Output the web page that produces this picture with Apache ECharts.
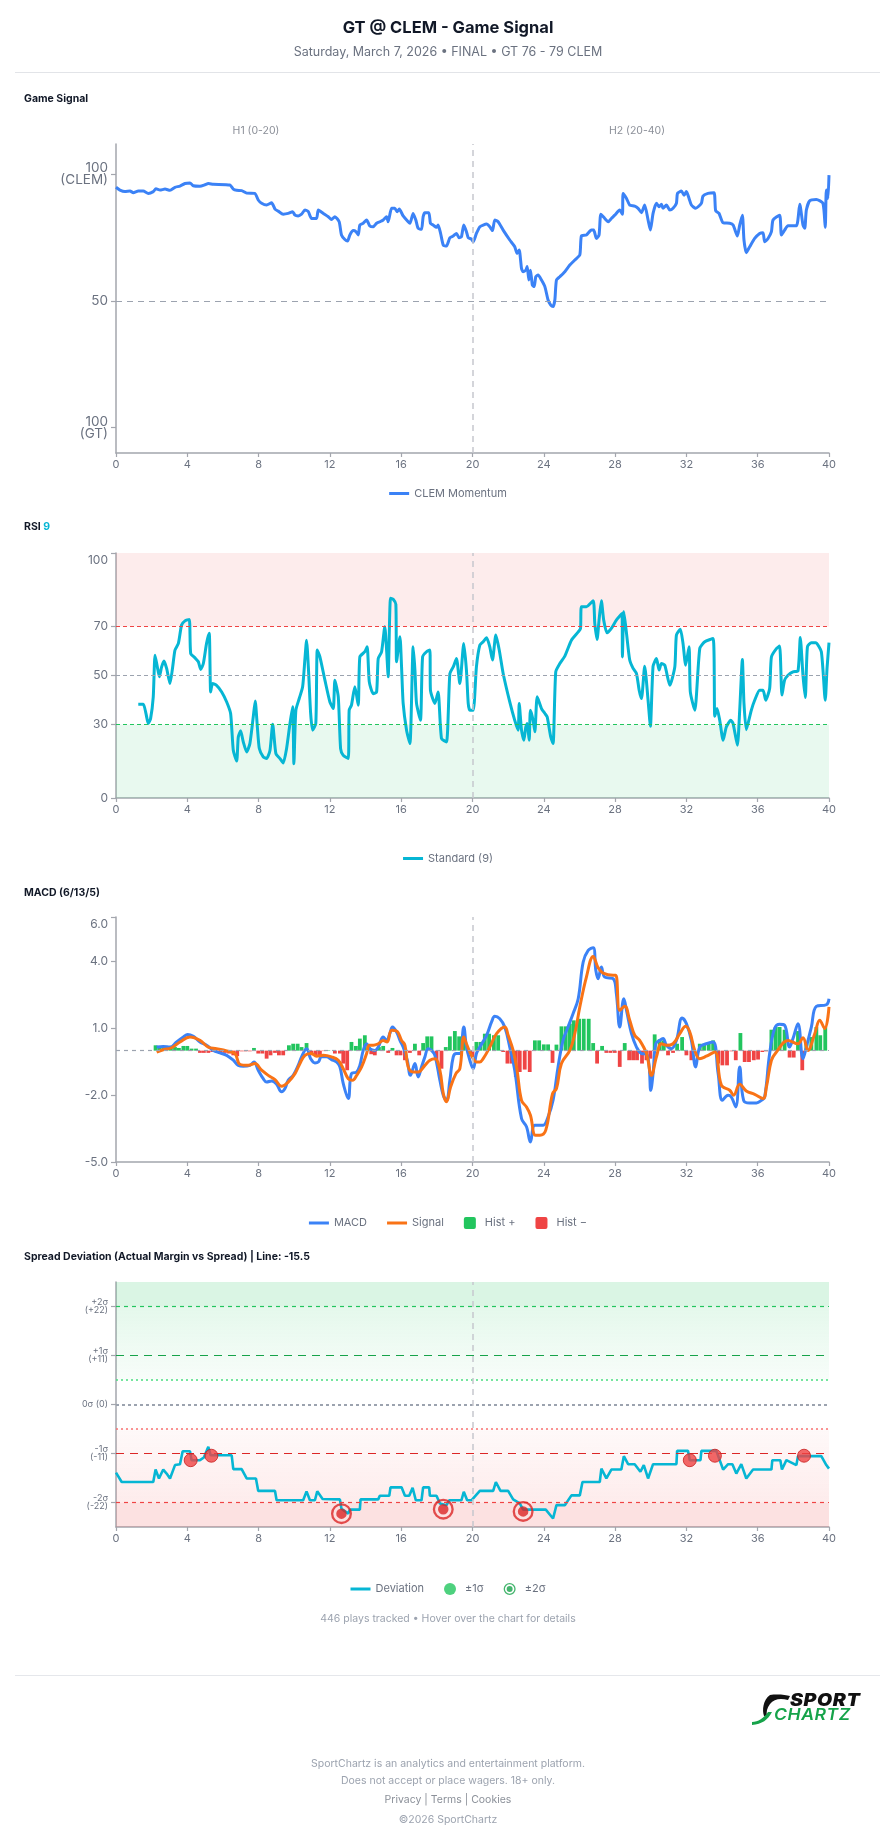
<!DOCTYPE html>
<html><head><meta charset="utf-8">
<script src="https://cdn.jsdelivr.net/npm/echarts@6/dist/echarts.min.js"></script>
<style>
body{margin:0;background:#fff;font-family:Inter,"Noto Sans",sans-serif;}
#page{position:relative;width:896px;height:1845px;overflow:hidden;background:#fff;}
#chart{position:absolute;left:0;top:0;width:896px;height:1845px;}
.t{position:absolute;white-space:nowrap;}
.sec{left:24px;font-size:10.5px;font-weight:700;color:#111827;line-height:14px;}
.foot{left:0;width:896px;text-align:center;font-size:10.5px;color:#9ca3af;line-height:14px;}
</style></head><body><div id="page"><div id="chart"></div>
<div class="t" style="left:0;width:896px;top:17px;text-align:center;font-size:16.5px;font-weight:700;color:#111827;line-height:20px;">GT @ CLEM - Game Signal</div>
<div class="t" style="left:0;width:896px;top:44px;text-align:center;font-size:12.5px;color:#6b7280;line-height:16px;">Saturday, March 7, 2026 • FINAL • GT 76 - 79 CLEM</div>
<div class="t" style="left:15px;width:865px;top:72px;height:1px;background:#e2e4e8;"></div>
<div class="t sec" style="top:92px;">Game Signal</div>
<div class="t sec" style="top:520px;">RSI <span style="color:#06b6d4">9</span></div>
<div class="t sec" style="top:886px;">MACD (6/13/5)</div>
<div class="t sec" style="top:1250px;">Spread Deviation (Actual Margin vs Spread) | Line: -15.5</div>
<div class="t foot" style="top:1612px;">446 plays tracked • Hover over the chart for details</div>
<div class="t" style="left:15px;width:865px;top:1675px;height:1px;background:#e5e7eb;"></div>
<svg class="t" style="left:748px;top:1692px;" width="120" height="34" viewBox="0 0 120 34">
  <path d="M22,3 C30,2 38,3 42,4 L40,8 C32,6 26,7 22,12 C19,16 18,20 19,24 L16,24 C14,18 15,8 22,3 Z" fill="#111"/>
  <path d="M4,30 C10,30 16,26 20,20 L24,20 C20,28 14,32 4,33 Z" fill="#16a34a"/>
</svg>
<div class="t" style="left:790px;top:1691px;font-size:17px;font-weight:900;font-style:italic;color:#111;letter-spacing:0.5px;line-height:18px;transform:scaleX(1.15);transform-origin:left;">SPORT</div>
<div class="t" style="left:774px;top:1706px;font-size:16px;font-weight:600;font-style:italic;color:#16a34a;letter-spacing:0.5px;line-height:17px;transform:scaleX(1.1);transform-origin:left;">CHARTZ</div>
<div class="t foot" style="top:1757px;">SportChartz is an analytics and entertainment platform.</div>
<div class="t foot" style="top:1774px;">Does not accept or place wagers. 18+ only.</div>
<div class="t foot" style="top:1793px;color:#8b9099;">Privacy | Terms | Cookies</div>
<div class="t foot" style="top:1813px;">©2026 SportChartz</div>
</div>
<script>
// ---------- DATA (minute, value) ----------
const momentum = [[0,94.9],[0.22,93.8],[0.5,93.2],[0.79,93.4],[0.97,92.8],[1.25,93.4],[1.53,93.4],[1.81,92.5],[2.09,93.2],[2.24,94.3],[2.47,93.8],[2.75,94.2],[3.03,93.7],[3.31,94.9],[3.59,95.4],[3.87,96.4],[4.15,96.6],[4.34,95.5],[4.71,95.3],[4.99,95.9],[5.18,96.4],[5.46,96.1],[6.39,95.8],[6.58,94.2],[6.77,93.7],[7.05,93.6],[7.33,92.6],[7.79,92.5],[7.98,89.9],[8.17,88.6],[8.45,87.9],[8.73,88.8],[8.92,86.3],[9.1,85.5],[9.38,84.3],[9.66,84.6],[9.91,85.3],[10.04,83.9],[10.22,83.6],[10.41,84.3],[10.6,85.9],[10.79,85.3],[10.97,82.6],[11.25,82.6],[11.35,85.9],[11.63,84.6],[11.91,83.3],[12.09,82.2],[12.28,83.3],[12.52,81.3],[12.65,76.1],[12.84,74.3],[12.99,73.7],[13.12,76.1],[13.31,77.8],[13.46,77.4],[13.59,76.1],[13.68,80.0],[13.87,80.7],[14.06,82.0],[14.24,79.6],[14.43,79.3],[14.62,80.7],[14.8,81.3],[14.99,82.0],[15.18,83.3],[15.27,81.3],[15.46,86.6],[15.64,86.6],[15.78,85.3],[15.89,86.3],[16.11,83.6],[16.39,81.3],[16.49,80.7],[16.67,84.6],[16.82,82.0],[16.95,78.7],[17.14,78.3],[17.23,83.3],[17.33,84.9],[17.55,84.9],[17.64,80.7],[17.79,80.0],[17.98,79.1],[18.07,80.0],[18.21,76.7],[18.36,72.1],[18.54,71.7],[18.73,75.0],[18.92,75.7],[19.1,76.7],[19.25,75.0],[19.38,75.4],[19.51,80.0],[19.66,77.4],[19.76,75.0],[19.94,74.5],[20.04,73.4],[20.22,76.7],[20.41,79.3],[20.6,80.0],[20.79,80.4],[20.97,79.3],[21.12,77.8],[21.25,82.0],[21.44,81.3],[21.72,78.0],[22.09,74.1],[22.37,71.4],[22.5,68.8],[22.62,70.1],[22.75,62.9],[22.84,61.6],[22.99,62.2],[23.07,63.6],[23.16,58.3],[23.25,62.2],[23.36,56.3],[23.46,55.7],[23.55,59.6],[23.68,60.3],[23.87,58.3],[24.06,55.7],[24.24,50.4],[24.39,48.4],[24.52,47.8],[24.62,50.4],[24.71,58.3],[24.9,59.6],[25.18,61.6],[25.46,64.2],[25.74,66.2],[26.02,68.2],[26.11,75.7],[26.39,76.1],[26.67,78.0],[26.8,78.0],[26.95,74.7],[27.1,76.1],[27.2,84.3],[27.42,82.6],[27.61,81.3],[27.79,82.6],[27.98,83.9],[28.26,85.9],[28.41,84.3],[28.45,92.5],[28.64,90.5],[28.82,87.9],[29.1,87.5],[29.29,86.6],[29.48,84.9],[29.66,87.9],[29.85,82.0],[29.98,78.0],[30.13,84.6],[30.32,88.6],[30.47,87.2],[30.6,88.2],[30.69,86.6],[30.88,87.9],[31.07,85.9],[31.25,86.6],[31.44,88.6],[31.5,92.5],[31.72,93.4],[31.87,91.8],[32.0,93.2],[32.15,90.5],[32.28,87.9],[32.52,86.6],[32.84,88.6],[32.93,91.4],[33.21,92.5],[33.55,92.8],[33.64,85.7],[33.83,84.6],[34.06,80.9],[34.43,80.7],[34.62,80.0],[34.86,75.7],[34.99,80.0],[35.14,83.9],[35.23,74.1],[35.36,69.1],[35.55,71.4],[35.83,74.7],[36.11,76.7],[36.3,77.0],[36.39,73.4],[36.58,74.7],[36.77,77.4],[36.86,82.0],[37.23,83.9],[37.33,76.1],[37.51,78.0],[37.7,79.7],[38.17,79.7],[38.36,88.2],[38.54,80.0],[38.64,78.7],[38.73,85.9],[38.92,89.6],[39.29,90.1],[39.66,88.6],[39.79,79.1],[39.85,93.8],[39.94,90.5],[40.0,99.7]];

const rsi = [[1.25,38.3],[1.53,38.3],[1.68,34.5],[1.81,30.4],[1.94,32.4],[2.09,41.3],[2.19,58.3],[2.32,53.5],[2.43,49.5],[2.56,53.5],[2.69,55.9],[2.84,52.9],[3.03,46.7],[3.18,53.5],[3.31,60.4],[3.5,63.1],[3.68,70.6],[3.87,72.3],[4.11,72.9],[4.19,59.0],[4.43,57.2],[4.62,55.6],[4.75,52.5],[4.9,54.9],[5.08,63.1],[5.23,67.2],[5.31,43.3],[5.42,46.7],[5.64,46.0],[5.93,43.3],[6.21,39.2],[6.43,34.5],[6.58,19.5],[6.77,15.1],[6.86,24.9],[6.99,27.4],[7.14,22.9],[7.33,18.8],[7.51,22.2],[7.7,33.1],[7.81,39.6],[7.93,29.0],[8.04,20.2],[8.26,16.8],[8.45,16.1],[8.64,19.5],[8.79,30.1],[8.97,18.1],[9.2,16.1],[9.38,14.3],[9.57,20.2],[9.76,30.4],[9.91,37.2],[9.98,14.0],[10.09,35.8],[10.28,40.6],[10.47,45.4],[10.6,56.9],[10.69,64.4],[10.8,52.2],[10.92,34.5],[11.03,27.7],[11.21,30.4],[11.29,60.4],[11.44,57.6],[11.72,48.1],[12.0,39.2],[12.19,36.5],[12.28,48.1],[12.47,41.3],[12.6,20.2],[12.75,17.4],[13.03,16.1],[13.08,35.8],[13.21,37.9],[13.4,45.4],[13.59,37.9],[13.68,57.6],[13.96,59.7],[14.09,61.7],[14.21,47.4],[14.43,42.6],[14.62,43.3],[14.71,56.9],[14.9,59.7],[15.08,69.9],[15.18,60.4],[15.27,49.5],[15.4,81.5],[15.55,81.1],[15.7,79.0],[15.74,55.6],[15.93,65.8],[16.02,53.5],[16.11,38.6],[16.3,27.7],[16.49,22.2],[16.67,61.7],[16.77,52.2],[16.86,38.6],[17.08,31.7],[17.2,57.6],[17.42,59.7],[17.61,60.4],[17.64,44.0],[17.89,38.6],[18.07,43.3],[18.26,24.3],[18.54,22.9],[18.73,50.8],[18.92,53.5],[19.1,56.9],[19.29,46.7],[19.51,63.1],[19.66,52.2],[19.76,38.6],[19.85,35.8],[20.04,35.8],[20.22,53.5],[20.41,62.4],[20.6,63.8],[20.79,65.4],[20.97,61.7],[21.12,56.3],[21.31,66.5],[21.5,60.4],[21.72,50.8],[22.09,39.2],[22.37,31.7],[22.56,27.7],[22.62,38.6],[22.75,27.7],[22.88,23.6],[22.99,29.0],[23.07,30.4],[23.18,23.6],[23.25,35.8],[23.4,31.7],[23.5,27.0],[23.63,41.3],[23.87,36.5],[24.06,34.5],[24.19,33.1],[24.39,24.9],[24.52,22.2],[24.67,51.5],[24.9,54.9],[25.18,57.9],[25.55,64.4],[25.93,67.8],[26.06,69.2],[26.11,78.1],[26.39,78.1],[26.77,80.5],[26.86,71.3],[26.99,64.7],[27.1,72.6],[27.23,80.5],[27.36,72.6],[27.55,67.4],[27.79,69.2],[28.07,72.6],[28.39,75.3],[28.41,57.6],[28.49,76.0],[28.64,67.2],[28.82,56.3],[29.01,52.9],[29.2,50.8],[29.35,44.0],[29.48,40.6],[29.66,53.8],[29.85,39.9],[29.98,29.3],[30.13,53.8],[30.32,56.9],[30.47,52.2],[30.6,54.9],[30.79,54.2],[31.07,46.0],[31.35,53.5],[31.44,66.5],[31.66,68.9],[31.81,63.1],[31.96,54.2],[32.15,61.7],[32.22,43.3],[32.47,35.8],[32.75,61.0],[33.03,63.8],[33.5,65.1],[33.59,33.4],[33.72,36.5],[33.87,31.7],[34.06,23.6],[34.24,29.0],[34.49,31.7],[34.62,30.4],[34.86,21.5],[34.99,35.8],[35.14,56.5],[35.23,38.6],[35.36,27.9],[35.64,35.8],[35.83,39.9],[36.11,44.0],[36.3,44.0],[36.45,39.9],[36.67,44.7],[36.77,57.6],[37.05,61.0],[37.23,62.0],[37.36,42.0],[37.51,48.1],[37.7,50.1],[37.98,51.5],[38.26,51.9],[38.39,65.5],[38.54,50.1],[38.67,41.0],[38.79,61.7],[39.01,63.4],[39.25,63.4],[39.57,59.7],[39.79,39.9],[39.89,52.9],[40.0,63.4]];

const macd = [[2.28,0.16],[2.65,0.19],[3.03,0.16],[3.4,0.39],[3.78,0.61],[4.02,0.73],[4.34,0.64],[4.71,0.39],[5.08,0.24],[5.46,0.01],[5.83,-0.10],[6.21,-0.21],[6.58,-0.43],[6.86,-0.66],[7.14,-0.70],[7.51,-0.66],[7.74,-0.51],[7.98,-0.88],[8.26,-1.26],[8.45,-1.41],[8.73,-1.36],[9.01,-1.51],[9.29,-1.85],[9.48,-1.70],[9.66,-1.33],[9.94,-1.11],[10.22,-0.66],[10.41,-0.28],[10.69,0.09],[10.92,-0.36],[11.16,-0.55],[11.35,-0.51],[11.53,-0.28],[11.81,-0.28],[12.09,-0.40],[12.37,-0.51],[12.56,-0.73],[12.75,-1.48],[13.03,-2.15],[13.21,-1.03],[13.5,-0.96],[13.68,-0.66],[13.87,0.01],[14.06,0.31],[14.24,0.09],[14.52,0.01],[14.71,0.16],[14.99,0.61],[15.18,0.46],[15.36,0.76],[15.51,1.06],[15.74,0.84],[15.93,0.46],[16.11,0.16],[16.34,-0.43],[16.52,-1.11],[16.77,-0.58],[16.95,-1.18],[17.14,-0.73],[17.33,-0.28],[17.51,0.09],[17.7,0.01],[17.89,-0.21],[18.17,-1.33],[18.36,-2.0],[18.54,-2.23],[18.73,-1.33],[18.92,-0.28],[19.1,-0.13],[19.29,-0.13],[19.51,1.06],[19.66,0.16],[19.85,-0.43],[20.04,-0.81],[20.22,-0.13],[20.41,0.16],[20.79,0.69],[21.07,1.29],[21.25,1.54],[21.53,1.43],[21.81,1.06],[22.09,0.16],[22.37,-0.88],[22.75,-3.05],[23.03,-3.42],[23.25,-4.10],[23.5,-3.35],[23.96,-3.35],[24.24,-2.97],[24.52,-2.23],[24.8,-0.73],[25.08,0.46],[25.36,1.06],[25.64,1.66],[25.93,2.33],[26.21,3.98],[26.49,4.50],[26.77,4.62],[26.92,3.60],[27.05,3.23],[27.23,3.75],[27.42,3.30],[27.89,3.23],[28.07,2.56],[28.26,1.06],[28.49,2.33],[28.64,1.81],[28.92,0.76],[29.2,0.16],[29.48,-0.13],[29.76,-0.16],[29.91,-0.73],[30.0,-1.78],[30.13,-1.03],[30.28,0.31],[30.5,0.46],[30.69,0.54],[30.88,0.24],[31.16,0.09],[31.44,0.46],[31.76,1.46],[32.0,1.21],[32.28,0.46],[32.52,-0.73],[32.75,0.16],[33.12,0.31],[33.5,0.39],[33.78,-1.03],[34.02,-2.23],[34.34,-2.0],[34.52,-2.08],[34.77,-2.53],[34.99,-0.73],[35.21,-2.23],[35.55,-2.35],[35.93,-2.35],[36.21,-2.23],[36.39,-2.08],[36.67,-0.13],[36.95,0.99],[37.23,1.18],[37.51,1.14],[37.79,0.16],[37.98,0.54],[38.26,1.21],[38.54,-0.36],[38.73,0.16],[39.01,1.06],[39.29,1.99],[39.85,2.06],[40.0,2.33]];

const signal = [[2.28,-0.07],[2.65,0.04],[3.12,0.13],[3.59,0.39],[4.15,0.61],[4.71,0.46],[5.18,0.16],[5.64,0.09],[6.21,-0.01],[6.67,-0.13],[6.95,-0.61],[7.42,-0.66],[7.79,-0.58],[8.17,-0.88],[8.54,-1.11],[8.92,-1.30],[9.29,-1.60],[9.66,-1.41],[10.04,-1.03],[10.32,-0.58],[10.6,-0.21],[10.97,-0.13],[11.25,-0.25],[11.63,-0.21],[12.09,-0.28],[12.47,-0.43],[12.75,-0.81],[13.03,-1.26],[13.27,-1.33],[13.5,-1.11],[13.78,-0.73],[14.06,-0.13],[14.21,0.24],[14.43,0.24],[14.71,0.31],[14.99,0.46],[15.21,0.39],[15.46,0.91],[15.74,0.88],[16.02,0.46],[16.21,0.24],[16.39,-0.73],[16.67,-0.96],[16.95,-0.96],[17.33,-0.66],[17.61,-0.43],[17.89,-0.36],[18.17,-0.88],[18.36,-1.93],[18.54,-2.30],[18.77,-1.63],[19.07,-1.03],[19.29,-0.81],[19.51,0.61],[19.66,0.31],[19.94,-0.21],[20.22,-0.51],[20.41,-0.51],[20.6,-0.36],[20.97,0.16],[21.35,0.76],[21.81,1.06],[22.0,0.69],[22.28,0.01],[22.5,-0.88],[22.75,-2.23],[23.03,-2.53],[23.25,-2.90],[23.53,-3.80],[23.78,-3.80],[24.11,-3.57],[24.49,-1.93],[24.71,-1.70],[24.99,-0.58],[25.46,0.01],[25.74,0.76],[26.02,1.96],[26.39,3.30],[26.77,4.23],[27.05,3.72],[27.33,3.48],[27.89,3.38],[28.04,3.38],[28.26,1.81],[28.54,1.99],[28.82,1.36],[29.1,0.69],[29.38,0.46],[29.76,-0.13],[30.04,-1.11],[30.32,-0.28],[30.6,0.31],[30.88,0.24],[31.25,0.31],[31.63,0.76],[31.96,1.09],[32.19,0.84],[32.47,0.01],[32.75,-0.36],[33.12,-0.25],[33.59,-0.06],[33.96,-1.55],[34.43,-1.78],[34.65,-2.0],[34.99,-1.51],[35.36,-1.81],[35.83,-1.96],[36.3,-2.15],[36.49,-1.63],[36.77,-0.43],[37.05,-0.06],[37.7,0.46],[38.26,0.31],[38.54,0.58],[38.82,0.01],[39.2,0.76],[39.48,1.36],[39.76,0.99],[40.0,1.96]];

const histogram = [[2.22,0.24],[2.43,0.16],[2.65,0.16],[2.84,0.12],[3.08,0.12],[3.31,0.16],[3.53,0.12],[3.78,0.21],[4.0,0.21],[4.24,0.09],[4.49,0.09],[4.71,-0.10],[4.93,-0.10],[5.18,-0.10],[5.4,-0.06],[5.64,-0.06],[5.87,-0.10],[6.11,-0.10],[6.34,-0.13],[6.58,-0.21],[6.8,-0.25],[7.05,-0.03],[7.27,-0.03],[7.51,-0.03],[7.74,0.12],[7.98,-0.13],[8.21,-0.13],[8.45,-0.36],[8.67,-0.21],[8.92,-0.10],[9.14,-0.21],[9.38,-0.21],[9.7,0.24],[9.94,0.31],[10.19,0.31],[10.41,0.16],[10.69,0.34],[10.97,-0.21],[11.21,-0.21],[11.44,-0.21],[11.66,-0.02],[11.91,0.02],[12.28,-0.13],[12.56,-0.13],[12.75,-0.58],[12.97,-0.88],[13.21,0.39],[13.46,0.21],[13.68,0.54],[13.96,0.69],[14.19,0.16],[14.32,-0.16],[14.52,-0.21],[14.75,0.16],[14.99,0.21],[15.27,-0.10],[15.51,0.12],[15.74,-0.21],[15.96,-0.21],[16.21,-0.43],[16.49,-0.10],[16.77,0.31],[17.01,-0.21],[17.23,0.34],[17.46,0.64],[17.7,0.64],[17.98,-0.43],[18.26,-0.81],[18.5,0.16],[18.73,0.64],[19.01,0.88],[19.25,0.64],[19.51,0.40],[20.0,-0.28],[20.22,0.39],[20.45,0.39],[20.69,0.76],[20.93,0.76],[21.2,0.69],[21.44,0.69],[21.72,-0.06],[21.96,-0.58],[22.19,-0.58],[22.43,-1.18],[22.65,-0.96],[22.93,-0.85],[23.21,-0.96],[23.5,0.46],[23.74,0.46],[24.0,0.28],[24.24,0.28],[24.49,-0.55],[24.71,0.27],[24.99,1.09],[25.23,1.09],[25.46,1.21],[25.68,1.36],[25.98,1.43],[26.24,1.43],[26.52,1.43],[26.77,0.34],[26.99,-0.58],[27.27,0.21],[27.51,-0.10],[27.74,-0.10],[27.98,-0.10],[28.26,-0.73],[28.54,0.34],[28.79,-0.43],[29.01,-0.43],[29.23,-0.43],[29.51,-0.58],[29.76,-0.43],[29.98,-0.36],[30.22,0.73],[30.5,0.51],[30.73,0.46],[30.97,-0.21],[31.25,-0.10],[31.48,0.31],[31.76,0.61],[32.0,-0.21],[32.28,-0.43],[32.75,0.31],[32.99,0.31],[33.25,0.31],[33.5,0.46],[33.78,-0.58],[34.02,-0.66],[34.28,-0.66],[34.52,-0.03],[34.77,-0.43],[35.03,0.79],[35.27,-0.51],[35.51,-0.51],[35.78,-0.43],[36.02,-0.40],[36.26,-0.06],[36.49,-0.03],[36.77,0.94],[37.01,1.06],[37.23,1.06],[37.51,0.94],[37.79,-0.31],[38.02,-0.31],[38.26,0.88],[38.5,-0.88],[38.73,0.31],[39.01,0.61],[39.29,1.06],[39.51,0.69],[39.79,1.06]];

const deviation = [[0,-15.3],[0.32,-17.4],[2.09,-17.4],[2.22,-14.6],[2.41,-16.6],[2.65,-14.6],[2.84,-15.5],[3.03,-16.6],[3.31,-13.6],[3.59,-13.4],[3.74,-10.5],[4.15,-10.5],[4.24,-12.5],[4.71,-12.5],[4.93,-11.9],[5.18,-9.5],[5.31,-11.4],[6.49,-11.4],[6.58,-14.5],[7.05,-14.5],[7.33,-16.6],[7.85,-16.6],[7.98,-19.4],[8.92,-19.4],[9.01,-21.5],[10.5,-21.5],[10.69,-19.5],[10.88,-21.5],[11.16,-21.5],[11.29,-19.5],[11.59,-21.2],[12.56,-21.3],[12.65,-23.4],[13.03,-24.5],[13.12,-23.6],[13.68,-23.6],[13.72,-21.3],[14.71,-21.3],[14.8,-20.5],[15.33,-20.5],[15.4,-18.6],[16.02,-18.6],[16.21,-20.5],[16.45,-20.5],[16.64,-18.7],[16.82,-21.5],[17.14,-21.5],[17.23,-18.6],[17.57,-18.6],[17.61,-20.5],[17.98,-20.5],[18.17,-22.2],[18.54,-22.6],[18.69,-21.5],[19.38,-21.5],[19.51,-19.6],[19.7,-21.5],[19.94,-21.5],[20.41,-19.4],[21.16,-19.4],[21.31,-17.4],[21.57,-19.4],[22.0,-19.4],[22.28,-21.3],[22.65,-22.2],[22.84,-23.6],[24.11,-23.6],[24.52,-25.6],[24.71,-22.6],[25.18,-22.6],[25.55,-20.4],[26.02,-20.4],[26.17,-17.4],[27.14,-17.4],[27.23,-14.4],[27.51,-16.6],[27.79,-14.6],[28.35,-14.6],[28.49,-11.6],[28.73,-13.4],[29.1,-13.4],[29.42,-15.1],[29.61,-13.6],[29.85,-16.6],[30.13,-13.4],[31.44,-13.4],[31.48,-10.4],[32.09,-10.4],[32.19,-12.5],[32.79,-12.5],[32.84,-10.4],[33.68,-10.4],[34.06,-14.6],[34.34,-13.4],[34.58,-13.4],[34.8,-15.5],[35.08,-13.4],[35.36,-16.6],[35.74,-14.6],[36.77,-14.6],[36.82,-12.5],[37.27,-12.5],[37.36,-14.6],[37.61,-12.5],[38.17,-13.6],[38.26,-11.6],[39.57,-11.6],[39.85,-13.6],[40.0,-14.4]];

const sigma1Events = [[4.19,-12.5],[5.35,-11.5],[32.19,-12.5],[33.6,-11.5],[38.6,-11.5]];
const sigma2Events = [[12.65,-24.5],[18.36,-23.5],[22.84,-24.0]];

const xTicks = [0,4,8,12,16,20,24,28,32,36,40];
const signalTicks = [0,50,100];
const rsiTicks = [0,30,50,70,100];
const macdTicks = [-5,-2,1,4,6];
const spreadTicks = [-22,-11,0,11,22];
const spreadLabels = {'22':'+2σ\n(+22)','11':'+1σ\n(+11)','0':'0σ (0)','-11':'-1σ\n(-11)','-22':'-2σ\n(-22)'};

// ---------- CHART ----------
const FONT = 'Inter, "Noto Sans", sans-serif';
const AX = '#a3a6ad', LBL = '#6b7280';
const chart = echarts.init(document.getElementById('chart'), null, {renderer:'canvas'});
const tops = [144, 553, 917, 1282];
const heights = [309, 245, 245, 245];
const grid = tops.map((t,i)=>({left:116, right:67, top:t, height:heights[i]}));
const xAxis = tops.map((t,i)=>({
  gridIndex:i, type:'value', min:0, max:40, interval:4,
  axisLine:{onZero:false, lineStyle:{color:AX, width:1.5}},
  axisTick:{show:true, length:4, lineStyle:{color:AX, width:1.2}},
  axisLabel:{color:LBL, fontSize:11, fontFamily:FONT, margin:6},
  splitLine:{show:false}
}));
function yAx(i, min, max, ticks, fmt, fs, rich){
  return {gridIndex:i, type:'value', min:min, max:max,
    axisLine:{show:true, onZero:false, lineStyle:{color:AX, width:1.5}},
    axisTick:{show:true, length:5, customValues:ticks, lineStyle:{color:AX, width:1.2}},
    axisLabel:{customValues:ticks, formatter:fmt, color:LBL, fontSize:fs, fontFamily:FONT, margin:8, rich:rich||{}},
    splitLine:{show:false}};
}
const yAxis = [
  yAx(0,-10,112,signalTicks,v=> v===100?'100\n(CLEM)':(v===0?'100\n(GT)':String(v)),13.5,{}),
  yAx(1,0,100,rsiTicks,v=> v===100?'{t|100}':String(v),12,{t:{padding:[14,0,0,0],fontSize:12,color:LBL,fontFamily:FONT}}),
  yAx(2,-5,6,macdTicks,v=> v===6?'{t|6.0}':v.toFixed(1),12,{t:{padding:[14,0,0,0],fontSize:12,color:LBL,fontFamily:FONT}}),
  yAx(3,-27.5,27.5,spreadTicks,v=> spreadLabels[String(v)],9,{})
];
yAxis[0].axisLabel.lineHeight = 12;
yAxis[3].axisLabel.lineHeight = 8;

const vLine = {xAxis:20, lineStyle:{color:'#c6c8ce', type:[6,5], width:1.5}};
const sq = 'path://M2,0H10A2,2,0,0,1,12,2V10A2,2,0,0,1,10,12H2A2,2,0,0,1,0,10V2A2,2,0,0,1,2,0Z';
const ring = 'path://M0,10A10,10,0,1,1,20,10A10,10,0,1,1,0,10ZM2.2,10A7.8,7.8,0,1,0,17.8,10A7.8,7.8,0,1,0,2.2,10ZM5,10A5,5,0,1,1,15,10A5,5,0,1,1,5,10Z';
const lineIcon = 'path://M0,0H20V3H0Z';
const lg = (top, data, gap) => ({top:top, left:'center', itemWidth:20, itemHeight:12, itemGap:gap||20,
  textStyle:{color:LBL, fontSize:11, fontFamily:FONT}, data:data, selectedMode:false});
function grad(a,b,c){return {type:'linear',x:0,y:0,x2:0,y2:1,colorStops:[{offset:0,color:'rgba('+c+','+a+')'},{offset:1,color:'rgba('+c+','+b+')'}]};}

const histPos = histogram.filter(d=>d[1]>=0);
const histNeg = histogram.filter(d=>d[1]<0);

const series = [
  {name:'CLEM Momentum', type:'line', xAxisIndex:0, yAxisIndex:0, data:momentum, symbol:'none', smooth:0.2,
   lineStyle:{color:'#3b82f6', width:3}, itemStyle:{color:'#3b82f6'},
   markLine:{silent:true, symbol:'none', label:{show:false}, data:[
     {yAxis:50, lineStyle:{color:'#9ca3af', type:[6,5], width:1.2}}, vLine]}},
  {name:'Standard (9)', type:'line', xAxisIndex:1, yAxisIndex:1, data:rsi, symbol:'none', smooth:0.2,
   lineStyle:{color:'#06b6d4', width:3}, itemStyle:{color:'#06b6d4'},
   markArea:{silent:true, data:[
     [{yAxis:70, itemStyle:{color:'rgba(239,68,68,0.1)'}},{yAxis:100}],
     [{yAxis:0, itemStyle:{color:'rgba(34,197,94,0.1)'}},{yAxis:30}]]},
   markLine:{silent:true, symbol:'none', label:{show:false}, data:[
     {yAxis:70, lineStyle:{color:'#ef4444', type:[4,3], width:1.2}},
     {yAxis:50, lineStyle:{color:'#9ca3af', type:[4,3], width:1.2}},
     {yAxis:30, lineStyle:{color:'#22c55e', type:[4,3], width:1.2}}, vLine]}},
  {name:'Hist +', type:'bar', xAxisIndex:2, yAxisIndex:2, data:histPos, barWidth:3.8, barGap:'-100%', itemStyle:{color:'#22c55e'}},
  {name:'Hist −', type:'bar', xAxisIndex:2, yAxisIndex:2, data:histNeg, barWidth:3.8, barGap:'-100%', itemStyle:{color:'#ef4444'}},
  {name:'MACD', type:'line', xAxisIndex:2, yAxisIndex:2, data:macd, symbol:'none', smooth:0.4,
   lineStyle:{color:'#3b82f6', width:3}, itemStyle:{color:'#3b82f6'},
   markLine:{silent:true, symbol:'none', label:{show:false}, data:[
     {yAxis:0, lineStyle:{color:'#9ca3af', type:[4,4], width:1.2}}, vLine]}},
  {name:'Signal', type:'line', xAxisIndex:2, yAxisIndex:2, data:signal, symbol:'none', smooth:0.4,
   lineStyle:{color:'#f97316', width:3}, itemStyle:{color:'#f97316'}},
  {name:'Deviation', type:'line', xAxisIndex:3, yAxisIndex:3, data:deviation, symbol:'none',
   lineStyle:{color:'#06b6d4', width:2.6}, itemStyle:{color:'#06b6d4'},
   markArea:{silent:true, data:[
     [{yAxis:22, itemStyle:{color:'rgba(34,197,94,0.17)'}},{yAxis:27.5}],
     [{yAxis:5.5, itemStyle:{color:grad(0.12,0.03,'34,197,94')}},{yAxis:22}],
     [{yAxis:-22, itemStyle:{color:grad(0.03,0.1,'239,68,68')}},{yAxis:-5.5}],
     [{yAxis:-27.5, itemStyle:{color:'rgba(239,68,68,0.16)'}},{yAxis:-22}]]},
   markLine:{silent:true, symbol:'none', label:{show:false}, data:[
     {yAxis:22, lineStyle:{color:'#22c55e', type:[4,4], width:1.2}},
     {yAxis:11, lineStyle:{color:'#16a34a', type:[8,6], width:1.2}},
     {yAxis:5.5, lineStyle:{color:'#4ade80', type:[2,3], width:1.6}},
     {yAxis:0, lineStyle:{color:'#9ca3af', type:[3,3], width:2}},
     {yAxis:-5.5, lineStyle:{color:'#f87171', type:[2,3], width:1.6}},
     {yAxis:-11, lineStyle:{color:'#dc2626', type:[8,6], width:1.2}},
     {yAxis:-22, lineStyle:{color:'#ef4444', type:[4,4], width:1.2}}, vLine]}},
  {name:'±1σ', type:'scatter', xAxisIndex:3, yAxisIndex:3, data:sigma1Events, symbol:'circle', symbolSize:13, z:5,
   itemStyle:{color:'#ef4444', borderColor:'#c81e1e', borderWidth:1}},
  {name:'±2σ', type:'scatter', xAxisIndex:3, yAxisIndex:3, data:sigma2Events, symbol:ring, symbolSize:21, z:5,
   itemStyle:{color:'#dc2626'}}
];

chart.setOption({
  animation:false,
  textStyle:{fontFamily:FONT},
  grid:grid, xAxis:xAxis, yAxis:yAxis, series:series,
  legend:[
    lg(483,[{name:'CLEM Momentum',icon:lineIcon}]),
    lg(848,[{name:'Standard (9)',icon:lineIcon}]),
    lg(1212,[{name:'MACD',icon:lineIcon},{name:'Signal',icon:lineIcon},{name:'Hist +',icon:sq},{name:'Hist −',icon:sq}],20),
    lg(1578,[{name:'Deviation',icon:lineIcon},{name:'±1σ',icon:'circle',itemStyle:{color:'#22c55e',borderWidth:0}},{name:'±2σ',icon:ring,itemStyle:{color:'#16a34a'}}],20)
  ],
  graphic:[
    {type:'text', style:{text:'H1 (0-20)', x:256, y:131, align:'center', verticalAlign:'middle', fill:'#8b8f98', fontSize:10.5, fontFamily:FONT}},
    {type:'text', style:{text:'H2 (20-40)', x:637, y:131, align:'center', verticalAlign:'middle', fill:'#8b8f98', fontSize:10.5, fontFamily:FONT}}
  ]
});
</script></body></html>
